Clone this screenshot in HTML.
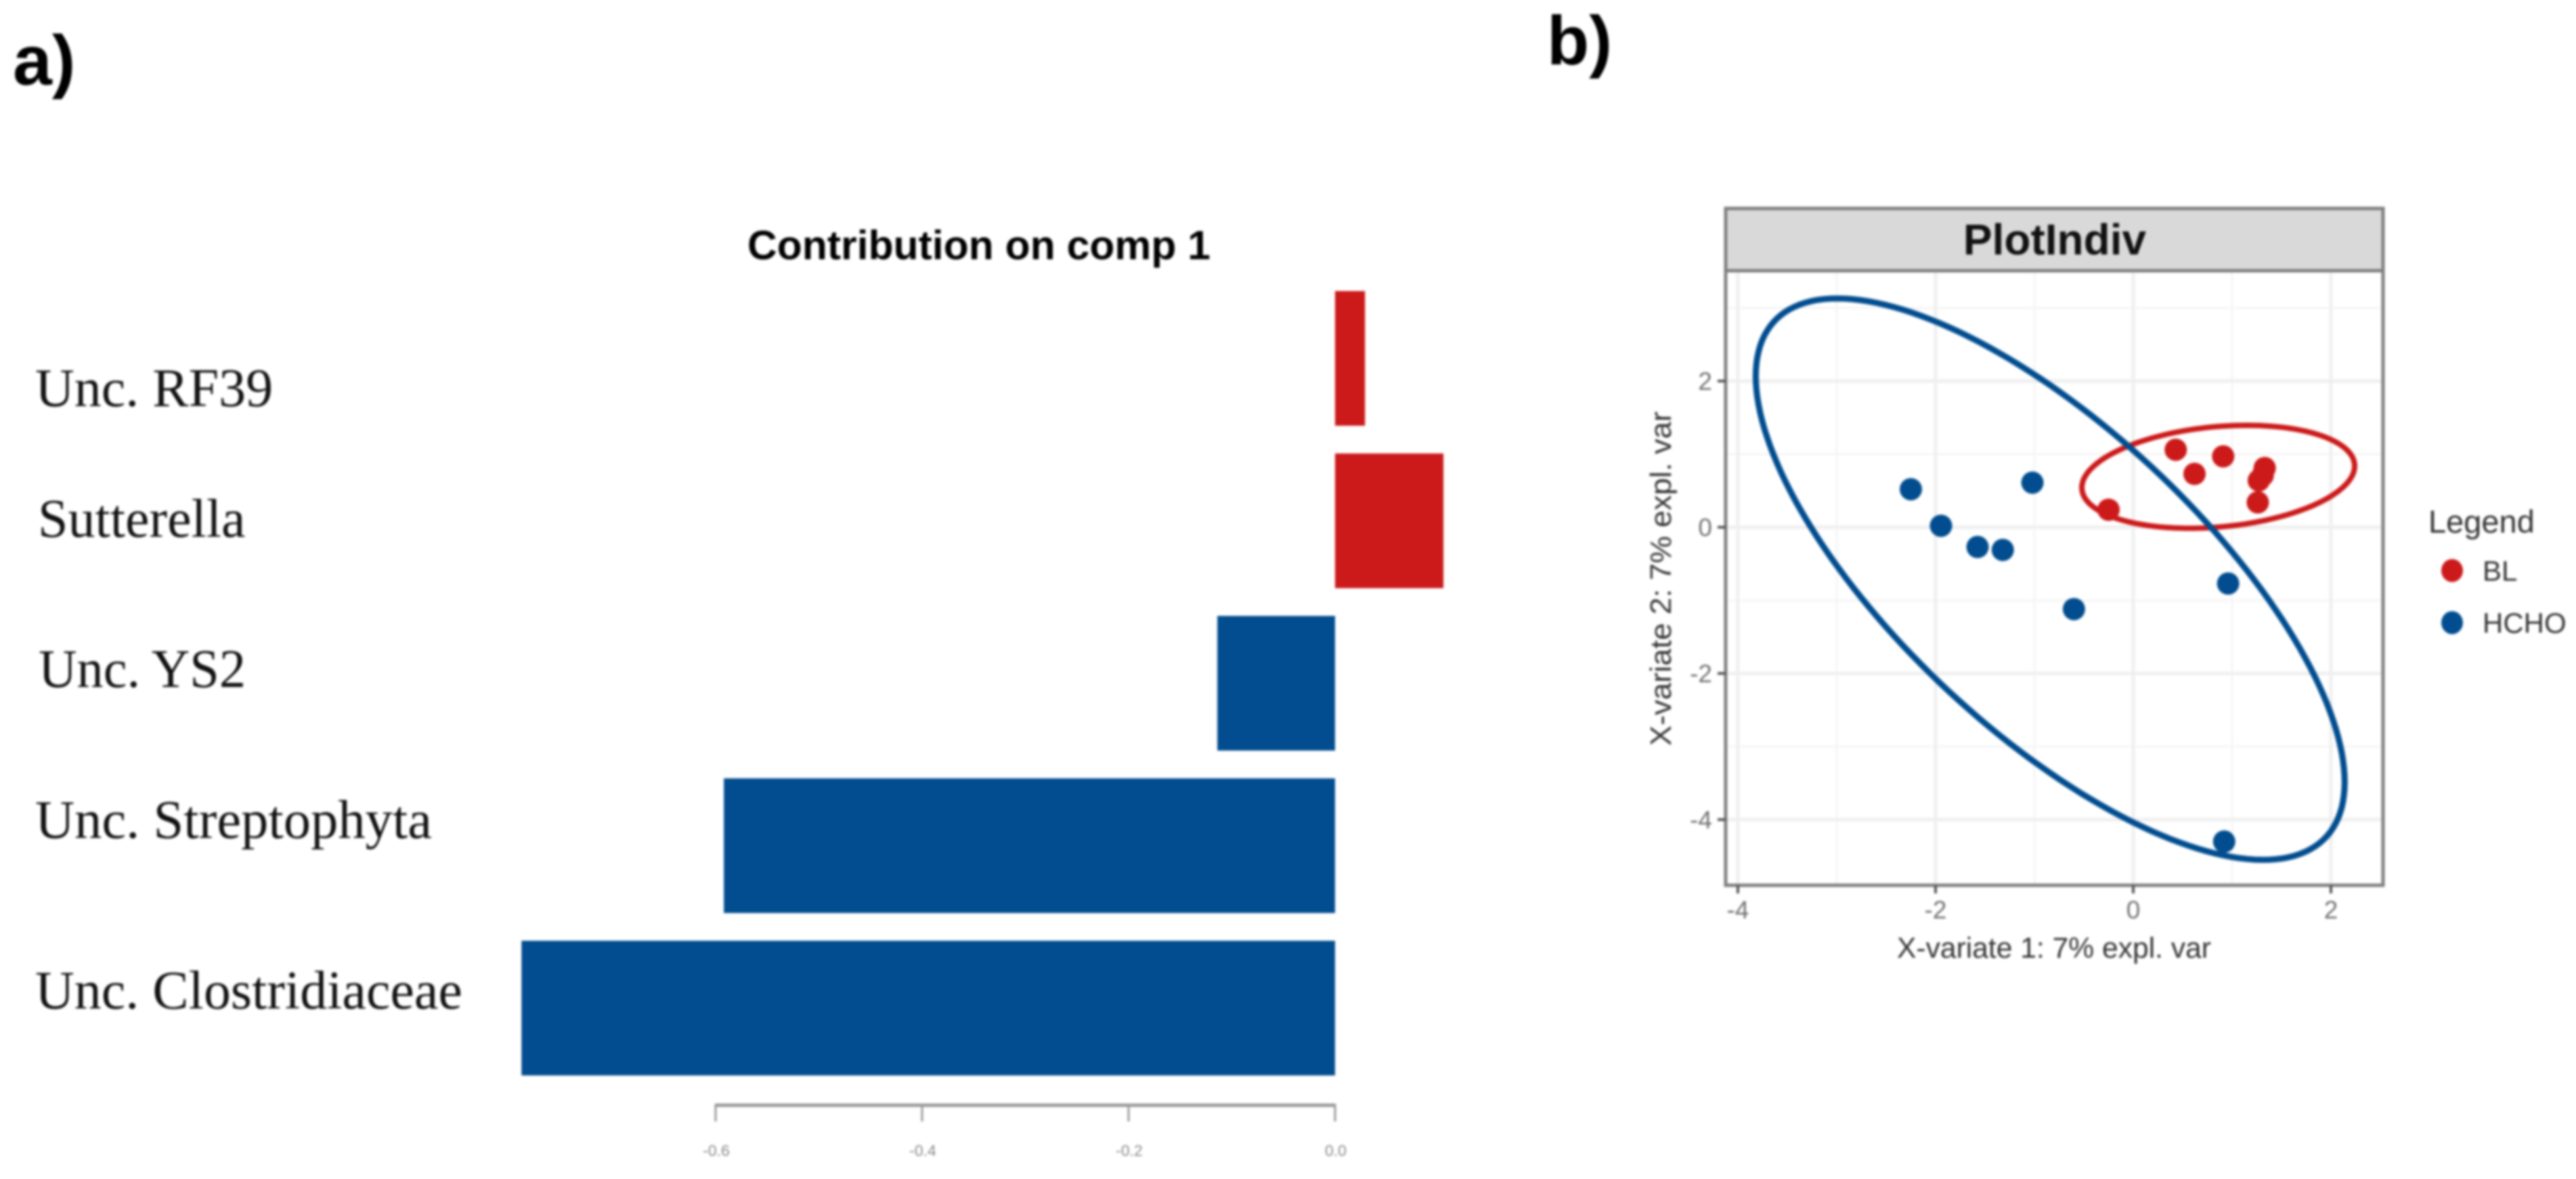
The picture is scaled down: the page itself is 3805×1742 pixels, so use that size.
<!DOCTYPE html>
<html lang="en">
<head>
<meta charset="utf-8">
<title>Contribution on comp 1 and PlotIndiv</title>
<style>
html,body{margin:0;padding:0;background:#fff;width:3805px;height:1742px;overflow:hidden}
svg{display:block;filter:blur(1.8px)}
text{font-family:"Liberation Sans",sans-serif}
.serif{font-family:"Liberation Serif",serif;font-size:80px;fill:#111}
</style>
</head>
<body>
<svg id="fig" xmlns="http://www.w3.org/2000/svg" width="3805" height="1742" viewBox="0 0 3805 1742">
  <rect width="3805" height="1742" fill="#fff"/>
  <text x="19" y="125" font-size="104" font-weight="700" fill="#000">a)</text>
  <text x="2285" y="95" font-size="102" font-weight="700" fill="#000">b)</text>

  <g id="panelA">
    <text x="1446" y="383" font-size="60.5" font-weight="700" text-anchor="middle" fill="#000" textLength="684" lengthAdjust="spacingAndGlyphs">Contribution on comp 1</text>
    <text class="serif" x="52" y="600">Unc. RF39</text>
    <text class="serif" x="56" y="793">Sutterella</text>
    <text class="serif" x="57" y="1015" textLength="306" lengthAdjust="spacingAndGlyphs">Unc. YS2</text>
    <text class="serif" x="52" y="1238" textLength="586" lengthAdjust="spacingAndGlyphs">Unc. Streptophyta</text>
    <text class="serif" x="52" y="1490">Unc. Clostridiaceae</text>
    <g id="barsA"></g>
    <g id="axisA"></g>
  </g>

  <g id="panelB">
    <rect x="2549" y="308" width="971" height="92" fill="#d9d9d9" stroke="#7f7f7f" stroke-width="5"/>
    <text x="3035" y="376" font-size="64" font-weight="700" text-anchor="middle" fill="#111">PlotIndiv</text>
    <g id="gridB"></g>
    <g id="ellipsesB"></g>
    <g id="pointsB"></g>
    <rect x="2549" y="400" width="971" height="908" fill="none" stroke="#7f7f7f" stroke-width="5"/>
    <g id="axisB"></g>
    <text x="3034" y="1415" font-size="43" text-anchor="middle" fill="#333" textLength="464" lengthAdjust="spacingAndGlyphs">X-variate 1: 7% expl. var</text>
    <text transform="translate(2468,855) rotate(-90)" font-size="44" text-anchor="middle" fill="#333" textLength="494" lengthAdjust="spacingAndGlyphs">X-variate 2: 7% expl. var</text>
    <g>
      <text x="3587" y="787" font-size="47" fill="#333">Legend</text>
      <ellipse cx="3622" cy="843" rx="16" ry="17" fill="#cc1a1a"/>
      <text x="3667" y="858" font-size="42" fill="#333">BL</text>
      <ellipse cx="3622" cy="920" rx="16" ry="17" fill="#014d8f"/>
      <text x="3667" y="935" font-size="42" fill="#333">HCHO</text>
    </g>
  </g>
</svg>
<script>
// Panel a data
const barCategories = ["Unc. RF39", "Sutterella", "Unc. YS2", "Unc. Streptophyta", "Unc. Clostridiaceae"];
const barValues = [0.029, 0.105, -0.114, -0.592, -0.788];
const barTicks = [-0.6, -0.4, -0.2, 0];
const barTickLabels = ["-0.6", "-0.4", "-0.2", "0.0"];

// Panel b data
const blX = [0.43, 0.91, 0.62, 1.33, 1.31, 1.27, 1.26, -0.25];
const blY = [1.06, 0.97, 0.73, 0.81, 0.71, 0.64, 0.34, 0.24];
const hchoX = [-2.25, -1.945, -1.575, -1.32, -1.02, -0.60, 0.96, 0.92];
const hchoY = [0.52, 0.02, -0.27, -0.31, 0.61, -1.12, -0.77, -4.30];
const blEllipse = [0.86, 0.69, 1.38, 0.704, 0.21];
const hchoEllipse = [-0.84, -0.71, 2.979, 3.84, -0.723];
const xTicks = [-4, -2, 0, 2];
const yTicks = [2, 0, -2, -4];
const xMinorTicks = [-3, -1, 1];
const yMinorTicks = [3, 1, -1, -3];

const NS = "http://www.w3.org/2000/svg";
const RED = "#cc1a1a", BLUE = "#014d8f";
function make(tag, parent, attrs) {
  const el = document.createElementNS(NS, tag);
  for (const k in attrs) el.setAttribute(k, attrs[k]);
  parent.appendChild(el);
  return el;
}
// Panel a scales
const ax = v => 1972 + v * 1525;
const ay = i => 430 + i * 240;
const barH = 199;
const barsA = document.getElementById("barsA");
const axisA = document.getElementById("axisA");
barValues.forEach((v, i) => {
  const r = make("rect", barsA, {x: Math.min(ax(0), ax(v)), y: ay(i), width: Math.abs(ax(v) - ax(0)), height: barH, fill: v >= 0 ? RED : BLUE});
  
  
});
const axisLine = make("line", axisA, {x1: ax(barTicks[0]), x2: ax(barTicks[barTicks.length - 1]), y1: 1633, y2: 1633, stroke: "#999", "stroke-width": 5});


barTicks.forEach((t, i) => {
  const tk = make("line", axisA, {x1: ax(t), x2: ax(t), y1: 1631, y2: 1657, stroke: "#999", "stroke-width": 3});
  
  
  const lb = make("text", axisA, {x: ax(t) + 1, y: 1708, "font-size": 23, "text-anchor": "middle", fill: "#888"});
  lb.textContent = barTickLabels[i];
  
  
});

// Panel b scales
const px = v => 3151 + v * 146;
const py = v => 779 - v * 108;
const gridB = document.getElementById("gridB");
const axisB = document.getElementById("axisB");
function gridLines(vals, vertical, width, color, name) {
  vals.forEach(v => {
    const attrs = vertical
      ? {x1: px(v), x2: px(v), y1: 403, y2: 1305}
      : {x1: 2552, x2: 3517, y1: py(v), y2: py(v)};
    attrs.stroke = color;
    attrs["stroke-width"] = width;
    const g = make("line", gridB, attrs);
    
    
  });
}
gridLines(xMinorTicks, true, 3, "#f5f5f5", "grid-minor-x");
gridLines(yMinorTicks, false, 3, "#f5f5f5", "grid-minor-y");
gridLines(xTicks, true, 5, "#efefef", "grid-major-x");
gridLines(yTicks, false, 5, "#efefef", "grid-major-y");

xTicks.forEach(t => {
  const tk = make("line", axisB, {x1: px(t), x2: px(t), y1: 1308, y2: 1320, stroke: "#555", "stroke-width": 4});
  
  
  const lb = make("text", axisB, {x: px(t), y: 1357, "font-size": 37, "text-anchor": "middle", fill: "#707070"});
  lb.textContent = String(t);
  
  
});
yTicks.forEach(t => {
  const tk = make("line", axisB, {x1: 2537, x2: 2549, y1: py(t), y2: py(t), stroke: "#555", "stroke-width": 4});
  
  
  const lb = make("text", axisB, {x: 2529, y: py(t) + 13, "font-size": 37, "text-anchor": "end", fill: "#707070"});
  lb.textContent = String(t);
  
  
});

// Ellipses: [centre x, centre y, x radius, y radius, correlation] in data units
function ellipsePath(e) {
  const pts = [];
  const s = Math.sqrt(1 - e[4] * e[4]);
  for (let k = 0; k < 180; k++) {
    const t = k / 180 * 2 * Math.PI;
    const x = e[0] + e[2] * Math.cos(t);
    const y = e[1] + e[3] * (e[4] * Math.cos(t) + s * Math.sin(t));
    pts.push(px(x).toFixed(1) + "," + py(y).toFixed(1));
  }
  return "M" + pts.join("L") + "Z";
}
const ellipsesB = document.getElementById("ellipsesB");
const redEl = make("path", ellipsesB, {d: ellipsePath(blEllipse), fill: "none", stroke: RED, "stroke-width": 8});


const blueEl = make("path", ellipsesB, {d: ellipsePath(hchoEllipse), fill: "none", stroke: BLUE, "stroke-width": 9});



const pointsB = document.getElementById("pointsB");
blX.forEach((x, i) => {
  const p = make("circle", pointsB, {cx: px(x), cy: py(blY[i]), r: 16.5, fill: RED});
  
  
});
hchoX.forEach((x, i) => {
  const p = make("circle", pointsB, {cx: px(x), cy: py(hchoY[i]), r: 16.5, fill: BLUE});
  
  
});
</script>
</body>
</html>
